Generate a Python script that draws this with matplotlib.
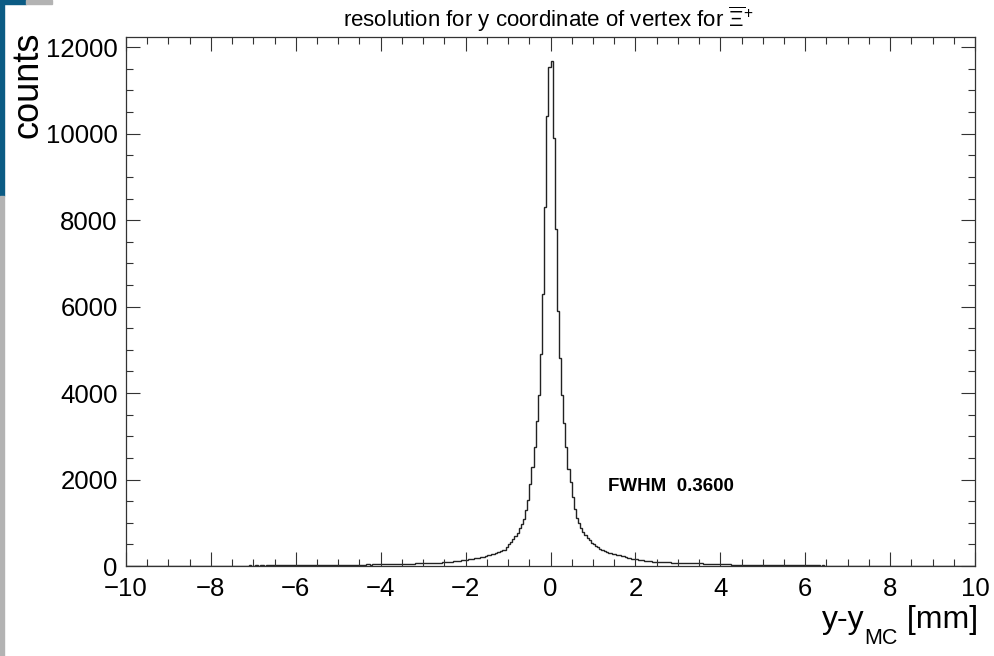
import matplotlib
matplotlib.use("Agg")
import matplotlib.pyplot as plt
import numpy as np
from matplotlib.patches import Rectangle
from matplotlib.ticker import MultipleLocator

plt.rcParams["font.family"] = ["Liberation Sans", "DejaVu Sans"]
plt.rcParams["mathtext.fontset"] = "custom"
plt.rcParams["mathtext.rm"] = "Liberation Sans"
plt.rcParams["mathtext.it"] = "Liberation Sans:italic"

# histogram: 400 bins of 0.05 mm between -10 and 10
x_lo, x_hi, n_bins = -10.0, 10.0, 400

left_tail = [  # -10 .. -4
    3, 4, 2, 5, 3, 4, 6, 3, 4, 5,
    4, 3, 5, 6, 4, 5, 3, 6, 5, 4,
    5, 6, 4, 7, 5, 6, 5, 7, 6, 5,
    6, 7, 5, 8, 6, 7, 8, 6, 7, 8,
    7, 8, 9, 7, 8, 9, 8, 10, 9, 8,
    9, 10, 8, 11, 9, 10, 11, 10, 12, 10,
    11, 12, 10, 13, 12, 11, 13, 12, 14, 13,
    13, 14, 15, 13, 16, 14, 15, 17, 15, 16,
    16, 18, 17, 19, 17, 18, 20, 19, 21, 20,
    21, 22, 20, 23, 24, 22, 25, 24, 26, 25,
    26, 27, 25, 28, 29, 27, 30, 31, 29, 32,
    32, 34, 33, 35, 36, 34, 37, 38, 36, 39,
]

core = [  # -4 .. 4
    40, 42, 41, 44, 43, 46, 45, 48, 47, 50,
    51, 53, 52, 55, 54, 57, 58, 60, 59, 62,
    64, 66, 65, 69, 71, 73, 76, 78, 80, 84,
    88, 92, 97, 101, 106, 112, 118, 125, 132, 140,
    150, 156, 163, 170, 178, 186, 196, 206, 218, 232,
    245, 258, 272, 285, 302, 318, 338, 372, 365, 430,
    515, 565, 620, 690, 760, 872, 960, 1080, 1295, 1527,
    1900, 2300, 2750, 3350, 3950, 4900, 6300, 8300, 10400, 11550,
    11675, 9900, 7800, 5900, 4800, 3950, 3300, 2750, 2250, 1950,
    1600, 1330, 1120, 1000, 880, 790, 715, 650, 590, 540,
    500, 462, 430, 400, 372, 350, 330, 312, 296, 282,
    268, 256, 244, 232, 220, 208, 196, 184, 172, 162,
    154, 146, 139, 132, 126, 120, 114, 109, 104, 100,
    97, 94, 91, 88, 86, 84, 82, 80, 78, 76,
    74, 73, 71, 70, 68, 67, 66, 65, 63, 62,
    60, 58, 56, 54, 52, 50, 47, 45, 42, 40,
]

right_tail = [  # 4 .. 10
    39, 37, 38, 35, 36, 34, 33, 34, 31, 32,
    30, 29, 30, 28, 27, 28, 26, 25, 26, 24,
    24, 23, 22, 23, 21, 22, 20, 21, 19, 20,
    19, 18, 17, 18, 16, 17, 15, 16, 15, 14,
    15, 14, 13, 14, 12, 13, 12, 11, 12, 11,
    11, 10, 11, 9, 10, 10, 9, 8, 9, 8,
    9, 8, 7, 8, 7, 8, 6, 7, 7, 6,
    7, 6, 6, 5, 6, 5, 6, 5, 4, 5,
    5, 4, 5, 4, 5, 4, 3, 4, 4, 3,
    4, 3, 4, 3, 3, 4, 3, 2, 3, 3,
    3, 2, 3, 3, 2, 3, 2, 3, 2, 2,
    2, 3, 2, 2, 3, 2, 2, 1, 2, 2,
]

counts = np.array(left_tail + core + right_tail, dtype=float)
edges = np.linspace(x_lo, x_hi, n_bins + 1)

title = r"resolution for y coordinate of vertex for $\overline{\Xi}^{+}$"
y_title = "counts"
fwhm_label = "FWHM  0.3600"

W, H = 994, 656
fig = plt.figure(figsize=(W / 100, H / 100), dpi=100)
ax = fig.add_axes([126 / W, (H - 566) / H, (975 - 126) / W, (566 - 37) / H])

ax.stairs(counts, edges, color="#222222", lw=1.0, baseline=0)

ax.set_xlim(x_lo, x_hi)
ax.set_ylim(0, 12237)
ax.xaxis.set_major_locator(MultipleLocator(2))
ax.xaxis.set_minor_locator(MultipleLocator(0.5))
ax.yaxis.set_major_locator(MultipleLocator(2000))
ax.yaxis.set_minor_locator(MultipleLocator(500))
ax.tick_params(which="both", direction="in", top=True, right=True, width=0.8, color="#333333")
ax.tick_params(which="major", length=10, labelsize=18.5)
ax.tick_params(which="minor", length=5)
ax.tick_params(axis="x", which="major", pad=8)
ax.tick_params(axis="y", which="major", pad=6)
ax.xaxis.set_major_formatter(plt.FuncFormatter(lambda v, p: f"{v:.0f}".replace("-", "\u2212")))
for s in ax.spines.values():
    s.set_linewidth(0.9)
    s.set_color("#333333")

# x title, ROOT style with a deep subscript: "y-y" + "MC" + " [mm]"
renderer = fig.canvas.get_renderer()
t_mm = fig.text(978 / W, 1 - 628 / H, " [mm]", ha="right", va="baseline", fontsize=23)
bb = t_mm.get_window_extent(renderer)
t_mc = fig.text(bb.x0 / W, 1 - 644 / H, "MC", ha="right", va="baseline", fontsize=15.5)
bb = t_mc.get_window_extent(renderer)
fig.text(bb.x0 / W, 1 - 628 / H, "y-y", ha="right", va="baseline", fontsize=23)

ax.text(-0.1154, 1.01, y_title, transform=ax.transAxes, ha="center", va="top", rotation=90, fontsize=26)
fig.text(548 / W, 1 - 27 / H, title, ha="center", va="baseline", fontsize=16)
ax.text(1.355, 1742, fwhm_label, ha="left", va="baseline", fontsize=13.5, fontweight="bold")

# strips at the left and top edges of the screenshot
fig.patches.append(Rectangle((0, 1 - 196 / H), 4 / W, 196 / H, transform=fig.transFigure, color="#0b5b84", zorder=5))
fig.patches.append(Rectangle((0, 0), 4 / W, 1 - 196 / H, transform=fig.transFigure, color="#b3b3b3", zorder=5))
fig.patches.append(Rectangle((0, 1 - 4 / H), 26 / W, 4 / H, transform=fig.transFigure, color="#0b5b84", zorder=5))
fig.patches.append(Rectangle((26 / W, 1 - 4 / H), 26 / W, 4 / H, transform=fig.transFigure, color="#b3b3b3", zorder=5))

fig.savefig("out.png", dpi=100)
